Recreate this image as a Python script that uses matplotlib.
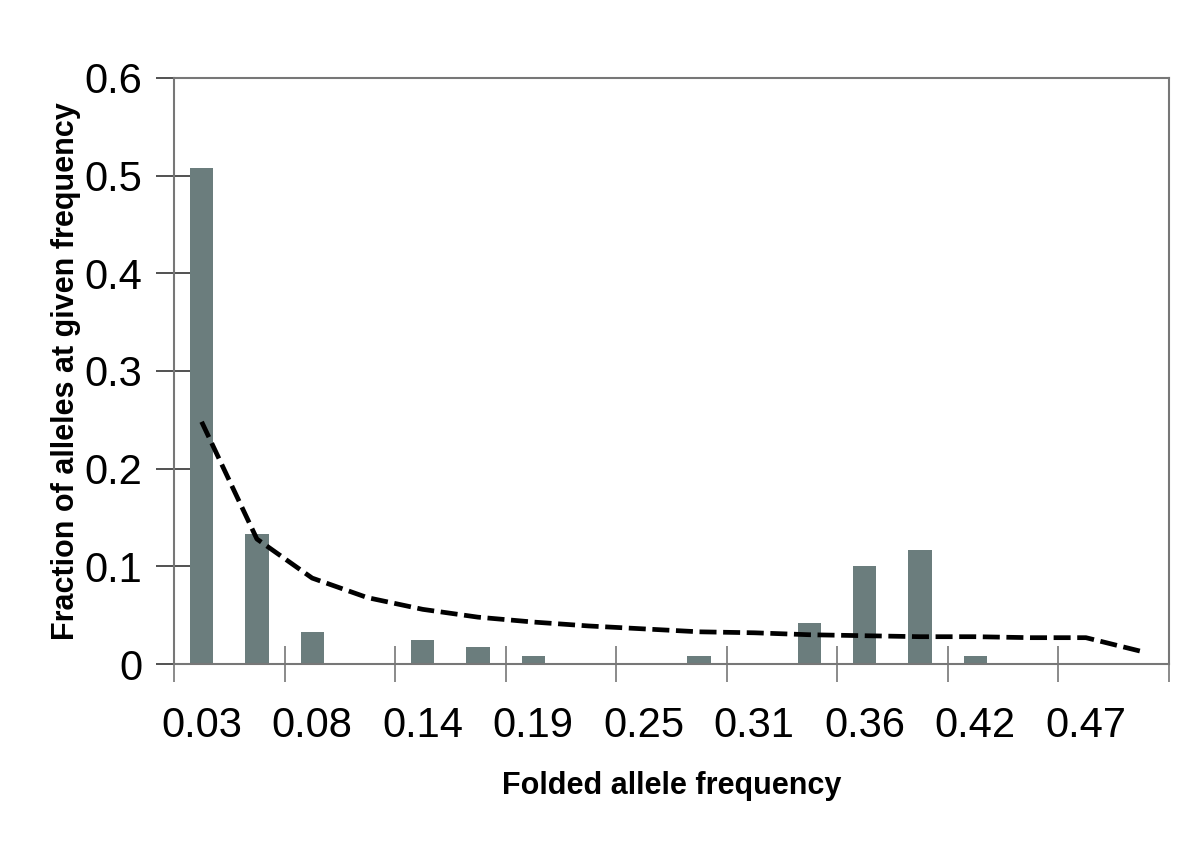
import matplotlib
matplotlib.use("Agg")
import matplotlib.pyplot as plt

# ---- Data ----
freq_labels = ['0.03', '0.06', '0.08', '0.11', '0.14', '0.17', '0.19', '0.22', '0.25',
               '0.28', '0.31', '0.33', '0.36', '0.39', '0.42', '0.44', '0.47', '0.50']
observed = [0.508, 0.133, 0.033, 0.0, 0.025, 0.017, 0.008, 0.0, 0.0,
            0.008, 0.0, 0.042, 0.100, 0.117, 0.008, 0.0, 0.0, 0.0]
expected = [0.248, 0.128, 0.088, 0.068, 0.056, 0.048, 0.043, 0.039, 0.036,
            0.033, 0.032, 0.030, 0.029, 0.028, 0.028, 0.027, 0.027, 0.013]

plt.rcParams['font.family'] = ['Liberation Sans', 'DejaVu Sans']

fig = plt.figure(figsize=(12, 8.47), dpi=100)
ax = fig.add_axes([0.145, 0.216, 0.829, 0.692])

x = list(range(len(freq_labels)))
ax.bar(x, observed, width=0.42, color='#6b7d7d', zorder=2)
ax.plot(x, expected, color='black', linewidth=3.4, linestyle=(0, (3.6, 1.4)), zorder=3)

ax.set_xlim(-0.5, len(freq_labels) - 0.5)
ax.set_ylim(0, 0.6)
ax.set_yticks([0, 0.1, 0.2, 0.3, 0.4, 0.5, 0.6])
ax.set_yticklabels(['0', '0.1', '0.2', '0.3', '0.4', '0.5', '0.6'])

# tick marks between pairs of categories, labels on every other category
ax.set_xticks([i - 0.5 for i in range(0, len(freq_labels) + 1, 2)])
ax.set_xticklabels([])
ax.set_xticks(x[::2], minor=True)
ax.set_xticklabels(freq_labels[::2], minor=True)

ax.tick_params(axis='x', which='major', direction='inout', length=26, width=1.2, color='#777777')
ax.tick_params(axis='x', which='minor', length=0, labelsize=30, pad=30)
ax.tick_params(axis='y', direction='inout', length=26, width=1.2, color='#333333', labelsize=30, pad=10)

for s in ax.spines.values():
    s.set_color('#777777')
    s.set_linewidth(1.5)

ax.set_xlabel('Folded allele frequency', fontsize=22, fontweight='bold', labelpad=18)
ax.set_ylabel('Fraction of alleles at given frequency', fontsize=22, fontweight='bold', labelpad=2)

plt.savefig('out.png', dpi=100)
